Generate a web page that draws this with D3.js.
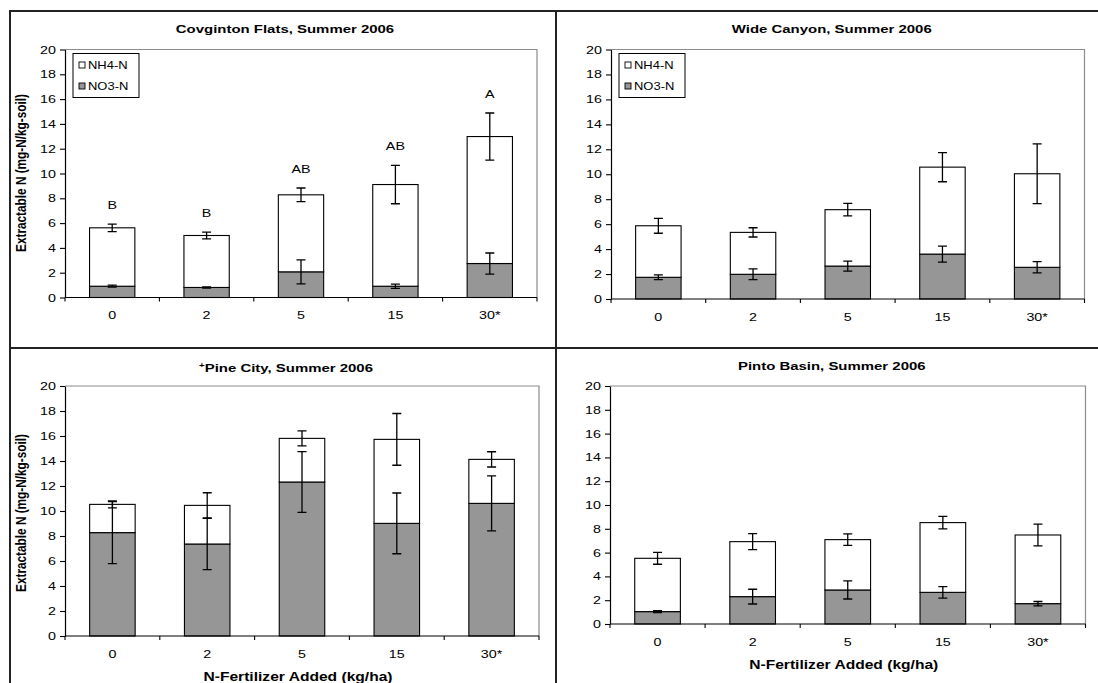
<!DOCTYPE html>
<html><head><meta charset="utf-8">
<script src="https://cdn.jsdelivr.net/npm/d3@7"></script>
<style>body{margin:0;background:#fff}svg{display:block}text{font-family:"Liberation Sans",Arial,sans-serif;fill:#000}</style>
</head><body><svg id="c" width="1098" height="683"></svg>
<script>
// ---- data ----
const categories = ["0", "2", "5", "15", "30*"];
const yTicks = [0, 2, 4, 6, 8, 10, 12, 14, 16, 18, 20];
const seriesNames = ["NH4-N", "NO3-N"];

const covNO3 = [0.91, 0.81, 2.07, 0.91, 2.74];
const covNH4 = [4.71, 4.19, 6.21, 8.20, 10.24];
const covNO3Err = [0.08, 0.05, 0.97, 0.17, 0.85];
const covNH4Err = [0.30, 0.28, 0.55, 1.55, 1.90];
const covLetters = ["B", "B", "AB", "AB", "A"];

const wideNO3 = [1.74, 1.98, 2.64, 3.60, 2.54];
const wideNH4 = [4.13, 3.36, 4.52, 6.97, 7.50];
const wideNO3Err = [0.19, 0.43, 0.40, 0.64, 0.45];
const wideNH4Err = [0.60, 0.37, 0.50, 1.17, 2.39];

const pineNO3 = [8.27, 7.36, 12.32, 9.01, 10.61];
const pineNH4 = [2.26, 3.09, 3.49, 6.72, 3.52];
const pineNO3Err = [2.48, 2.05, 2.43, 2.43, 2.20];
const pineNH4Err = [0.28, 1.01, 0.60, 2.07, 0.61];

const pintoNO3 = [1.04, 2.30, 2.86, 2.66, 1.71];
const pintoNH4 = [4.48, 4.62, 4.23, 5.86, 5.77];
const pintoNO3Err = [0.08, 0.62, 0.76, 0.48, 0.18];
const pintoNH4Err = [0.50, 0.67, 0.48, 0.53, 0.91];

const yTitle = "Extractable N (mg-N/kg-soil)";
const xTitle = "N-Fertilizer Added (kg/ha)";

// ---- layout ----
const SX = 1.3;
const svg = d3.select("#c");
const panels = [
  {title: "Covginton Flats, Summer 2006", no3: covNO3, nh4: covNH4, no3Err: covNO3Err, nh4Err: covNH4Err, letters: covLetters,
   L: 65, R: 537, T: 49.5, B: 297.5, ty: 33, legend: true, yT: true, xT: false, yTc: 173},
  {title: "Wide Canyon, Summer 2006", no3: wideNO3, nh4: wideNH4, no3Err: wideNO3Err, nh4Err: wideNH4Err,
   L: 611, R: 1084.5, T: 49.5, B: 299, ty: 33, legend: true, yT: false, xT: false},
  {title: "Pine City, Summer 2006", sup: "+", no3: pineNO3, nh4: pineNH4, no3Err: pineNO3Err, nh4Err: pineNH4Err,
   L: 65, R: 539, T: 386, B: 636, ty: 372, legend: false, yT: true, xT: true, xTy: 681, yTc: 513},
  {title: "Pinto Basin, Summer 2006", no3: pintoNO3, nh4: pintoNH4, no3Err: pintoNO3Err, nh4Err: pintoNH4Err,
   L: 610, R: 1085.5, T: 386, B: 624, ty: 370, legend: false, yT: false, xT: true, xTy: 669}
];

function txt(g, x, y, s, size, weight, anchor) {
  return g.append("text").attr("transform", `translate(${x},${y}) scale(${SX},1)`)
    .attr("text-anchor", anchor || "middle").attr("font-size", size).attr("font-weight", weight || "normal").text(s);
}

panels.forEach(p => {
  const g = svg.append("g");
  const x = d3.scaleBand().domain(categories).range([p.L, p.R]).paddingInner(0.52).paddingOuter(0.26);
  const y = d3.scaleLinear().domain([0, 20]).range([p.B, p.T]);
  const step = x.step();
  const cx = c => x(c) + x.bandwidth() / 2;

  // plot area frame (top/right grey)
  g.append("path").attr("d", `M${p.L},${p.T}H${p.R}V${p.B}`).attr("fill", "none").attr("stroke", "#8c8c8c").attr("stroke-width", 1.2);

  // title
  const tc = (p.L + p.R) / 2 - 16;
  const t = txt(g, tc, p.ty, null, 11.5, "bold");
  if (p.sup) t.append("tspan").attr("font-size", 7.5).attr("dy", -4).text(p.sup);
  t.append("tspan").attr("dy", p.sup ? 4 : 0).text(p.title);

  // bars
  const totals = p.no3.map((v, i) => v + p.nh4[i]);
  g.selectAll(".no3").data(categories).join("rect")
    .attr("x", c => x(c)).attr("width", x.bandwidth())
    .attr("y", (c, i) => y(p.no3[i])).attr("height", (c, i) => y(0) - y(p.no3[i]))
    .attr("fill", "#969696").attr("stroke", "#000").attr("stroke-width", 1.1);
  g.selectAll(".nh4").data(categories).join("rect")
    .attr("x", c => x(c)).attr("width", x.bandwidth())
    .attr("y", (c, i) => y(totals[i])).attr("height", (c, i) => y(p.no3[i]) - y(totals[i]))
    .attr("fill", "#fff").attr("stroke", "#000").attr("stroke-width", 1.1);

  // error bars
  const errs = [];
  categories.forEach((c, i) => {
    errs.push({c, v: p.no3[i], e: p.no3Err[i]});
    errs.push({c, v: totals[i], e: p.nh4Err[i]});
  });
  const cap = 4.5;
  const eg = g.append("g").attr("stroke", "#000").attr("stroke-width", 1.3).attr("fill", "none");
  eg.selectAll("path").data(errs).join("path").attr("d", d => {
    const xc = cx(d.c), y1 = y(d.v + d.e), y2 = y(d.v - d.e);
    return `M${xc},${y1}V${y2}M${xc - cap},${y1}H${xc + cap}M${xc - cap},${y2}H${xc + cap}`;
  });

  // letters
  if (p.letters) {
    categories.forEach((c, i) => {
      txt(g, cx(c), y(totals[i] + p.nh4Err[i]) - 15, p.letters[i], 11, "normal");
    });
  }

  // y axis
  const ya = g.append("g").attr("transform", `translate(${p.L},0)`)
    .call(d3.axisLeft(y).tickValues(yTicks).tickSize(5).tickSizeOuter(0).tickPadding(4));
  ya.select(".domain").attr("stroke", "#000").attr("stroke-width", 1.2);
  ya.selectAll(".tick line").attr("stroke", "#000").attr("stroke-width", 1.1);
  ya.selectAll(".tick text").attr("font-size", 11).attr("font-family", "Liberation Sans, Arial, sans-serif")
    .attr("transform", `translate(-9,0) scale(${SX},1)`).attr("x", 0);

  // x axis
  g.append("line").attr("x1", p.L).attr("x2", p.R).attr("y1", p.B).attr("y2", p.B).attr("stroke", "#000").attr("stroke-width", 1.2);
  g.selectAll(".xt").data(d3.range(categories.length + 1)).join("line")
    .attr("x1", i => p.L + i * step).attr("x2", i => p.L + i * step)
    .attr("y1", p.B).attr("y2", p.B + 4).attr("stroke", "#000").attr("stroke-width", 1.1);
  const xa = g.append("g").attr("transform", `translate(0,${p.B})`)
    .call(d3.axisBottom(x).tickSize(0).tickPadding(0));
  xa.select(".domain").remove();
  xa.selectAll(".tick text").attr("font-size", 11).attr("font-family", "Liberation Sans, Arial, sans-serif")
    .attr("dy", null).attr("y", 0).attr("transform", `translate(0,21.5) scale(${SX},1)`);

  // axis titles
  if (p.yT) {
    g.append("text").attr("transform", `translate(25.5,${p.yTc}) scale(${SX},1) rotate(-90)`)
      .attr("text-anchor", "middle").attr("font-size", 11.8).attr("font-weight", "bold").text(yTitle);
  }
  if (p.xT) txt(g, (p.L + p.R) / 2 - 4, p.xTy, xTitle, 12, "bold");

  // legend
  if (p.legend) {
    const lx = p.L + 8, ly = 53.5;
    const lg = g.append("g");
    lg.append("rect").attr("x", lx).attr("y", ly).attr("width", 66).attr("height", 44)
      .attr("fill", "#fff").attr("stroke", "#000").attr("stroke-width", 1);
    const fills = ["#fff", "#969696"];
    seriesNames.forEach((s, i) => {
      const yy = ly + 12 + i * 21;
      lg.append("rect").attr("x", lx + 6).attr("y", yy - 3.5).attr("width", 6).attr("height", 6)
        .attr("fill", fills[i]).attr("stroke", "#000").attr("stroke-width", 0.9);
      txt(lg, lx + 15, yy + 3.5, s, 10, "normal", "start");
    });
  }
});

// outer frame and dividers
const fr = svg.append("g").attr("stroke", "#222").attr("stroke-width", 2).attr("fill", "none");
fr.append("path").attr("d", "M10,683V11H1098");
fr.append("line").attr("x1", 556).attr("x2", 556).attr("y1", 11).attr("y2", 683);
fr.append("line").attr("x1", 10).attr("x2", 1098).attr("y1", 348).attr("y2", 348);
</script></body></html>
